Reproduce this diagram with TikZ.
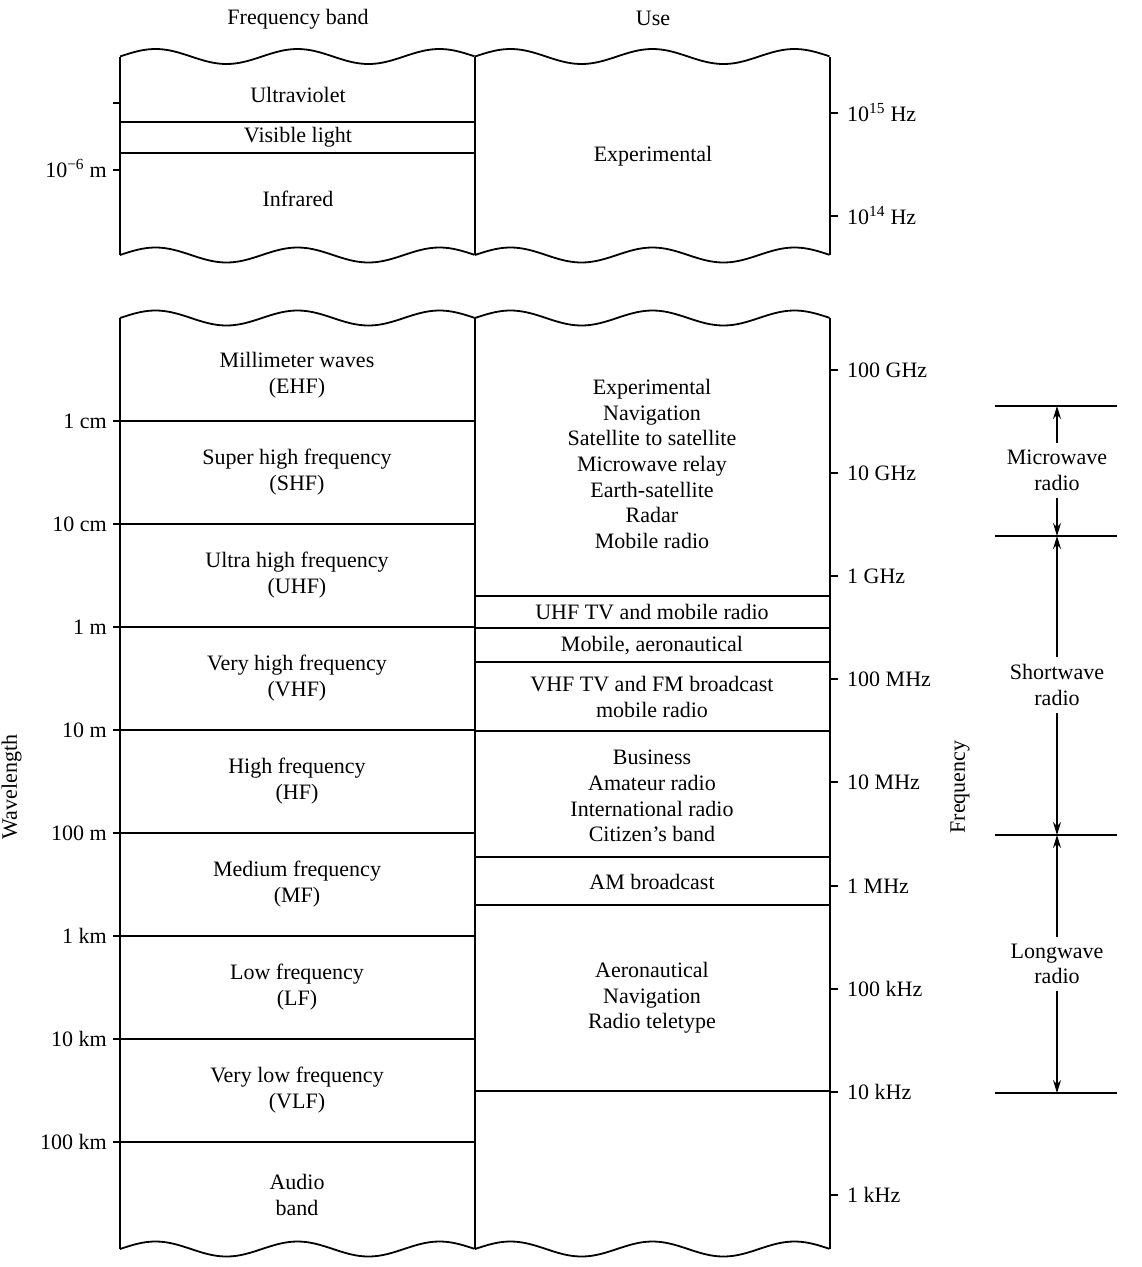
\documentclass[tikz,border=0pt]{standalone}
\usepackage{fontspec}
\setmainfont{Liberation Serif}
\usetikzlibrary{arrows.meta}
\newcommand{\wavy}[3]{\draw[frame] plot[domain=0:1,samples=100,smooth] ({#1+\x*(#2-#1)},{#3-7.5*sin(900*\x)});}
\begin{document}
\begin{tikzpicture}[x=1pt,y=-1pt,
  frame/.style={line width=1.8pt},
  tickmark/.style={line width=1.5pt},
  lbl/.style={font=\fontsize{22}{25.7}\selectfont, align=center, inner sep=0pt},
  ticklbl/.style={font=\fontsize{22}{25.7}\selectfont, inner sep=0pt},
  annotlbl/.style={font=\fontsize{22}{25.7}\selectfont, align=center, inner xsep=0pt, inner ysep=7pt},
  annot/.style={line width=1.3pt},
  arr/.style={line width=1.3pt, -{Stealth[length=13pt,width=8pt]}}]
\useasboundingbox (0,0) rectangle (1142,1267);

% headers
\node[lbl] (hband) at (298,19) {Frequency band};
\node[lbl] (huse) at (653,18) {Use};

% ---------- top box ----------
\wavy{120}{475}{56.5}
\wavy{475}{830}{56.5}
\wavy{120}{475}{255}
\wavy{475}{830}{255}
\draw[frame] (120,56.5) -- (120,255);
\draw[frame] (475,56.5) -- (475,255);
\draw[frame] (830,56.5) -- (830,255);
\draw[frame] (120,122) -- (475,122);
\draw[frame] (120,153) -- (475,153);
\draw[tickmark] (113,103) -- (120,103);
\draw[tickmark] (113,170) -- (120,170);
\draw[tickmark] (830,113) -- (838,113);
\draw[tickmark] (830,216) -- (838,216);
\node[ticklbl, anchor=base east] (wm6) at (107,177.5) {10\textsuperscript{−6} m};
\node[ticklbl, anchor=base west] (f15) at (847,121) {10\textsuperscript{15} Hz};
\node[ticklbl, anchor=base west] (f14) at (847,224) {10\textsuperscript{14} Hz};
\node[lbl] (uv) at (298,95) {Ultraviolet};
\node[lbl] (vis) at (298,137.5) {Visible light};
\node[lbl] (ir) at (298,199) {Infrared};
\node[lbl] (exptop) at (653,156) {Experimental};

% ---------- bottom box ----------
\wavy{120}{475}{318}
\wavy{475}{830}{318}
\wavy{120}{475}{1249}
\wavy{475}{830}{1249}
\draw[frame] (120,318) -- (120,1249);
\draw[frame] (475,318) -- (475,1249);
\draw[frame] (830,318) -- (830,1249);

% left column separators and wavelength ticks
\foreach \yy/\tx/\nm in {421/1 cm/wa,524/10 cm/wb,627/1 m/wc,730/10 m/wd,833/100 m/we,936/1 km/wf,1039/10 km/wg,1142/100 km/wh}{
  \draw[frame] (120,\yy) -- (475,\yy);
  \draw[tickmark] (113,\yy) -- (120,\yy);
  \node[ticklbl, anchor=base east] (\nm) at (107,\yy+7.5) {\tx};
}
% right column separators
\foreach \yy in {596,628,662,731,857,905,1091}{
  \draw[frame] (475,\yy) -- (830,\yy);
}
% frequency ticks
\foreach \yy/\tx/\nm in {370/100 GHz/fa,473/10 GHz/fb,576/1 GHz/fc,679/100 MHz/fd,782/10 MHz/fe,886/1 MHz/ff,989/100 kHz/fg,1092/10 kHz/fh,1195/1 kHz/fi}{
  \draw[tickmark] (830,\yy) -- (838,\yy);
  \node[ticklbl, anchor=base west] (\nm) at (847,\yy+7.5) {\tx};
}

% left column labels
\node[lbl] (ehf) at (297,375) {Millimeter waves\\(EHF)};
\node[lbl] (shf) at (297,472) {Super high frequency\\(SHF)};
\node[lbl] (uhf) at (297,575) {Ultra high frequency\\(UHF)};
\node[lbl] (vhf) at (297,678) {Very high frequency\\(VHF)};
\node[lbl] (hf) at (297,781) {High frequency\\(HF)};
\node[lbl] (mf) at (297,884) {Medium frequency\\(MF)};
\node[lbl] (lf) at (297,987) {Low frequency\\(LF)};
\node[lbl] (vlf) at (297,1090) {Very low frequency\\(VLF)};
\node[lbl] (audio) at (297,1195) {Audio\\band};

% right column labels
\node[lbl] (exp) at (652,464) {Experimental\\Navigation\\Satellite to satellite\\Microwave relay\\Earth-satellite\\Radar\\Mobile radio};
\node[lbl] (uhftv) at (652,612.5) {UHF TV and mobile radio};
\node[lbl] (mobaero) at (652,645.5) {Mobile, aeronautical};
\node[lbl] (vhftv) at (652,697) {VHF TV and FM broadcast\\mobile radio};
\node[lbl] (bus) at (652,796) {Business\\Amateur radio\\International radio\\Citizen's band};
\node[lbl] (am) at (652,881.5) {AM broadcast};
\node[lbl] (aero) at (652,998) {Aeronautical\\Navigation\\Radio teletype};

% axis titles
\node[lbl, rotate=90] (wavel) at (11.5,787) {Wavelength};
\node[lbl, rotate=90] (freq) at (960,787) {Frequency};

% right annotations
\coordinate (ra) at (1057,406);
\coordinate (rb) at (1057,536);
\coordinate (rc) at (1057,835);
\coordinate (rd) at (1057,1093);
\foreach \c in {ra,rb,rc,rd}{
  \draw[annot] ([xshift=-62pt]\c) -- ([xshift=60pt]\c);
}
\node[annotlbl] (mw) at (1057,470.5) {Microwave\\radio};
\node[annotlbl] (sw) at (1057,685) {Shortwave\\radio};
\node[annotlbl] (lw) at (1057,964) {Longwave\\radio};
\draw[arr] (mw.north) -- (ra);
\draw[arr] (mw.south) -- (rb);
\draw[arr] (sw.north) -- (rb);
\draw[arr] (sw.south) -- (rc);
\draw[arr] (lw.north) -- (rc);
\draw[arr] (lw.south) -- (rd);
\end{tikzpicture}
\end{document}
